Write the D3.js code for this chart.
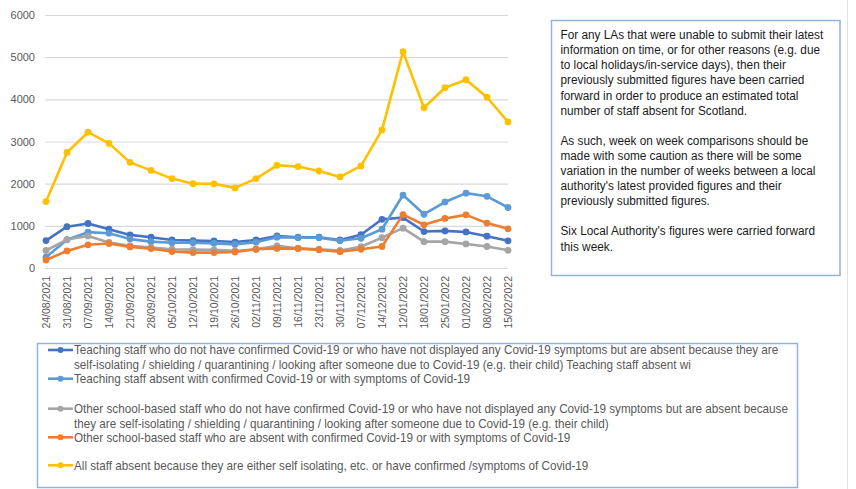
<!DOCTYPE html>
<html>
<head>
<meta charset="utf-8">
<script src="https://cdn.jsdelivr.net/npm/d3@7"></script>
<style>
  body { margin: 0; background: #fff; }
  svg { display: block; }
</style>
</head>
<body>
<script>
// week labels on the category axis
const dates = [
    "24/08/2021", "31/08/2021", "07/09/2021", "14/09/2021", "21/09/2021", "28/09/2021",
    "05/10/2021", "12/10/2021", "19/10/2021", "26/10/2021", "02/11/2021", "09/11/2021",
    "16/11/2021", "23/11/2021", "30/11/2021", "07/12/2021", "14/12/2021", "12/01/2022",
    "18/01/2022", "25/01/2022", "01/02/2022", "08/02/2022", "15/02/2022"
]

// series values
const teachIsolating = [650, 980, 1055, 920, 785, 730, 665, 650, 640, 615, 665, 760, 730, 730, 665, 790, 1155, 1195, 865, 880, 855, 755, 645]
const teachConfirmed = [255, 670, 850, 825, 685, 625, 600, 600, 585, 560, 610, 730, 720, 720, 645, 705, 920, 1730, 1275, 1565, 1775, 1700, 1435]
const otherIsolating = [415, 675, 760, 605, 525, 485, 445, 435, 430, 405, 445, 525, 470, 445, 415, 505, 720, 945, 625, 625, 570, 510, 420]
const otherConfirmed = [190, 405, 550, 580, 500, 460, 390, 365, 365, 380, 445, 465, 460, 430, 385, 445, 510, 1265, 1025, 1175, 1260, 1065, 930]
const allStaff = [1575, 2740, 3220, 2955, 2505, 2315, 2120, 2000, 1995, 1900, 2120, 2435, 2405, 2300, 2160, 2420, 3275, 5130, 3800, 4275, 4465, 4050, 3465]

const yTicks = [0, 1000, 2000, 3000, 4000, 5000, 6000]

const legendText = [
    ["Teaching staff who do not have confirmed Covid-19 or who have not displayed any Covid-19 symptoms but are absent because they are",
     "self-isolating / shielding / quarantining / looking after someone due to Covid-19 (e.g. their child) Teaching staff absent wi"],
    ["Teaching staff absent with confirmed Covid-19 or with symptoms of Covid-19"],
    ["Other school-based staff who do not have confirmed Covid-19 or who have not displayed any Covid-19 symptoms but are absent because",
     "they are self-isolating / shielding / quarantining / looking after someone due to Covid-19 (e.g. their child)"],
    ["Other school-based staff who are absent with confirmed Covid-19 or with symptoms of Covid-19"],
    ["All staff absent because they are either self isolating, etc. or have confirmed /symptoms of Covid-19"]
]

const noteText = [
    "For any LAs that were unable to submit their latest",
    "information on time, or for other reasons (e.g. due",
    "to local holidays/in-service  days), then their",
    "previously submitted figures have been carried",
    "forward in order to produce an estimated total",
    "number of staff absent for Scotland.",
    "",
    "As such, week on week comparisons should be",
    "made with some caution as there will be some",
    "variation in the number of weeks between a local",
    "authority's latest provided figures and their",
    "previously submitted figures.",
    "",
    "Six Local Authority's figures were carried forward",
    "this week."
]

const series = [
    { values: teachIsolating, color: "#4472C4" },
    { values: teachConfirmed, color: "#5B9BD5" },
    { values: otherIsolating, color: "#A5A5A5" },
    { values: otherConfirmed, color: "#ED7D31" },
    { values: allStaff, color: "#FFC000" }
]

var width = 856
var height = 489
var plot = { left: 46, right: 508, top: 15, bottom: 268 }
var boxStroke = "#8fb4e0"

var svg = d3.select("body").append("svg")
    .attr("width", width)
    .attr("height", height)
    .style("font-family", "'Liberation Sans', Arial, sans-serif");

var xScale = d3.scalePoint()
    .domain(dates)
    .range([plot.left, plot.right]);

var yScale = d3.scaleLinear()
    .domain([0, 6000])
    .range([plot.bottom, plot.top]);

// faint page edge on the right
svg.append("line")
    .attr("x1", 847.5).attr("x2", 847.5)
    .attr("y1", 0).attr("y2", height)
    .style("stroke", "#e2e2e2");

function renderYAxis() {
    var yAxis = d3.axisLeft(yScale)
        .tickValues(yTicks)
        .tickSize(-(plot.right - plot.left + 1))
        .tickPadding(10)
        .tickFormat(d3.format("d"));

    var g = svg.append("g")
        .attr("class", "y-axis")
        .attr("transform", "translate(" + (plot.left - 1) + ",0)")
        .call(yAxis);

    g.select(".domain").remove();
    g.selectAll(".tick line")
        .style("stroke", "#d9d9d9")
        .style("stroke-width", 1.2);
    g.selectAll(".tick text")
        .style("fill", "#595959")
        .style("font-size", "11px");
}

function renderXAxis() {
    var xAxis = d3.axisBottom(xScale)
        .tickSize(0)
        .tickPadding(0);

    var g = svg.append("g")
        .attr("class", "x-axis")
        .attr("transform", "translate(0," + plot.bottom + ")")
        .call(xAxis);

    g.select(".domain").remove();
    g.selectAll(".tick text")
        .style("fill", "#595959")
        .style("font-size", "10.5px")
        .attr("text-anchor", "end")
        .attr("transform", "rotate(-90)")
        .attr("x", -8)
        .attr("y", 0)
        .attr("dy", "0.35em");
}

function renderLines() {
    var line = d3.line()
        .x(function (d, i) { return xScale(dates[i]); })
        .y(function (d) { return yScale(d); });

    series.forEach(function (s) {
        svg.append("path")
            .datum(s.values)
            .attr("d", line)
            .style("fill", "none")
            .style("stroke", s.color)
            .style("stroke-width", 2.6)
            .style("stroke-linejoin", "round");

        svg.append("g").selectAll("circle")
            .data(s.values)
            .enter()
            .append("circle")
            .attr("cx", function (d, i) { return xScale(dates[i]); })
            .attr("cy", function (d) { return yScale(d); })
            .attr("r", 3.4)
            .style("fill", s.color);
    });
}

// squeeze a text group horizontally so a reference line hits a measured width
function squeeze(g, refNode, target, x0) {
    var w = refNode.getComputedTextLength();
    var sx = target / w;
    g.attr("transform", "translate(" + x0 + ",0) scale(" + sx + ",1) translate(" + (-x0) + ",0)");
}

function renderNote() {
    var g = svg.append("g").attr("class", "note");
    g.append("rect")
        .attr("x", 551.5).attr("y", 20.5)
        .attr("width", 288.5).attr("height", 255)
        .style("fill", "#fff")
        .style("stroke", boxStroke)
        .style("stroke-width", 1.5);

    var tg = g.append("g");
    var texts = tg.selectAll("text")
        .data(noteText)
        .enter()
        .append("text")
        .attr("x", 560.5)
        .attr("y", function (d, i) { return 35 + i * 15.1; })
        .attr("dy", "0.35em")
        .style("fill", "#1a1a1a")
        .style("font-size", "12px")
        .text(function (d) { return d; });

    squeeze(tg, texts.nodes()[0], 263, 560.5);
}

function renderLegend() {
    var g = svg.append("g").attr("class", "legend");
    g.append("rect")
        .attr("x", 37.5).attr("y", 343.5)
        .attr("width", 760).attr("height", 144)
        .style("fill", "#fff")
        .style("stroke", boxStroke)
        .style("stroke-width", 1.5);

    var rowY = [350, 378.7, 408.7, 437.3, 465.3];
    var tg = g.append("g");
    var allText = [];

    series.forEach(function (s, i) {
        var y = rowY[i];
        g.append("line")
            .attr("x1", 48).attr("x2", 73)
            .attr("y1", y).attr("y2", y)
            .style("stroke", s.color)
            .style("stroke-width", 2.6);
        g.append("circle")
            .attr("cx", 60.5).attr("cy", y).attr("r", 3)
            .style("fill", s.color);

        legendText[i].forEach(function (t, j) {
            var node = tg.append("text")
                .attr("x", 74)
                .attr("y", y + j * 14.5)
                .attr("dy", "0.35em")
                .style("fill", "#595959")
                .style("font-size", "12.5px")
                .text(t);
            allText.push(node.node());
        });
    });

    squeeze(tg, allText[0], 705, 74);
}

renderYAxis();
renderXAxis();
renderLines();
renderNote();
renderLegend();
</script>
</body>
</html>
